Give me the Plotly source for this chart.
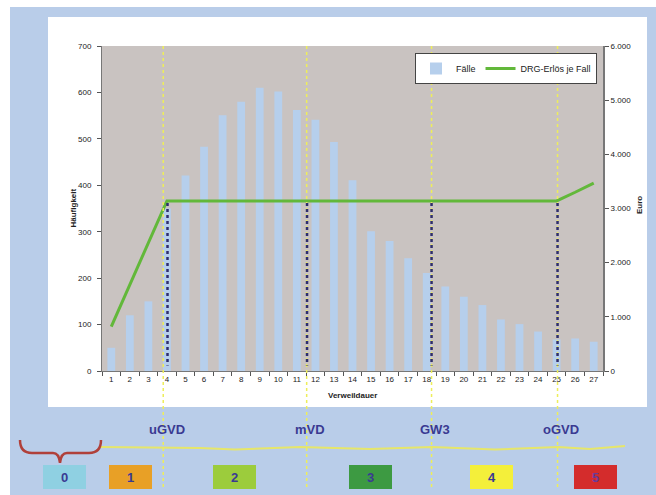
import plotly.graph_objects as go

# ---- data ----
days = [str(i) for i in range(1, 28)]
faelle = [50, 120, 150, 350, 421, 483, 551, 580, 610, 602, 562, 541, 493, 411, 301,
          280, 243, 211, 182, 160, 142, 111, 101, 85, 68, 70, 63]
erloes = [820, 1600, 2370, 3140, 3140, 3140, 3140, 3140, 3140, 3140, 3140, 3140, 3140,
          3140, 3140, 3140, 3140, 3140, 3140, 3140, 3140, 3140, 3140, 3140, 3140, 3300, 3470]
marker_names = ["uGVD", "mVD", "GW3", "oGVD"]
marker_pos = [3.8, 11.53, 18.26, 25.05]      # category positions (1-based)
dotted_pos = [4.03, 11.55, 18.26, 25.05]
box_labels = ["0", "1", "2", "3", "4", "5"]
box_colors = ["#8fd0e2", "#e8a026", "#9ccc3c", "#3d9a42", "#f4ef3a", "#d42c2c"]

W, H = 656, 495
L, R, T, B = 102, 603, 46, 371


def px(x):
    return (x - L) / (R - L)


def py(y):
    return (B - y) / (B - T)


BLUE = "#b9cde9"
NAVY = "#3a3a92"
FONT = "Arial, Liberation Sans, sans-serif"

fig = go.Figure()
fig.add_trace(go.Bar(x=days, y=faelle, name="Fälle", marker_color="#b6cfec",
                     marker_line_width=0, width=0.42))
fig.add_trace(go.Scatter(x=days, y=erloes, name="DRG-Erlös je Fall", yaxis="y2",
                         mode="lines", line=dict(color="#62b83a", width=3)))

shapes = []
# outer blue frame, white panel, grey plot area
shapes.append(dict(type="rect", xref="paper", yref="paper", x0=px(10), x1=px(660),
                   y0=py(7), y1=py(500), fillcolor=BLUE, line_width=0, layer="below"))
shapes.append(dict(type="rect", xref="paper", yref="paper", x0=px(48), x1=px(647),
                   y0=py(17), y1=py(407), fillcolor="white", line_width=0, layer="below"))
shapes.append(dict(type="rect", xref="paper", yref="paper", x0=0, x1=1,
                   y0=0, y1=1, fillcolor="#c9c3c1", line_width=0, layer="below"))

# yellow vertical lines
for p in marker_pos:
    shapes.append(dict(type="line", xref="x", yref="paper", x0=p - 1, x1=p - 1,
                       y0=1, y1=py(490), line=dict(color="#eeee5a", width=1.5, dash="dot")))
# dotted navy lines from revenue line down to axis
for p in dotted_pos:
    shapes.append(dict(type="line", xref="x", yref="y2", x0=p - 1, x1=p - 1,
                       y0=3100, y1=100, line=dict(color="#2e2e6e", width=2.5, dash="dot")))

# yellow horizontal timeline
wave = f"M {px(100)},{py(447)} L {px(200)},{py(448)} L {px(235)},{py(449.5)} L {px(300)},{py(447)} " \
       f"L {px(370)},{py(449)} L {px(432)},{py(447)} L {px(495)},{py(449.5)} L {px(558)},{py(447)} " \
       f"L {px(590)},{py(449)} L {px(625)},{py(446)}"
shapes.append(dict(type="path", xref="paper", yref="paper", path=wave,
                   line=dict(color="#e6e66a", width=2)))

# red curly brace
brace = f"M {px(20)},{py(440)} Q {px(20)},{py(453)} {px(32)},{py(453)} L {px(53)},{py(453)} " \
        f"Q {px(59)},{py(453)} {px(60)},{py(463)} Q {px(61)},{py(453)} {px(67)},{py(453)} " \
        f"L {px(89)},{py(453)} Q {px(101)},{py(453)} {px(101)},{py(440)}"
shapes.append(dict(type="path", xref="paper", yref="paper", path=brace,
                   line=dict(color="#b0403a", width=2.5)))

# numbered boxes
box_x = [43, 109, 213, 349, 470, 574]
annotations = []
for lab, col, bx in zip(box_labels, box_colors, box_x):
    shapes.append(dict(type="rect", xref="paper", yref="paper", x0=px(bx), x1=px(bx + 43),
                       y0=py(465), y1=py(489), fillcolor=col, line_width=0))
    annotations.append(dict(xref="paper", yref="paper", x=px(bx + 21.5), y=py(477),
                            xanchor="center", yanchor="middle",
                            text=f"<b>{lab}</b>", showarrow=False,
                            font=dict(family=FONT, size=13,
                                      color="#6a3a9a" if lab == "5" else NAVY)))

for name, p in zip(marker_names, marker_pos):
    annotations.append(dict(xref="x", yref="paper", x=p - 1 + 0.2, y=py(429),
                            xanchor="center", yanchor="middle",
                            text=f"<b>{name}</b>", showarrow=False,
                            font=dict(family=FONT, size=13, color=NAVY)))

# axis titles
annotations.append(dict(xref="paper", yref="paper", x=px(73), y=0.5, text="<b>Häufigkeit</b>",
                        xanchor="center", yanchor="middle",
                        textangle=-90, showarrow=False, font=dict(family=FONT, size=8, color="#222")))
annotations.append(dict(xref="paper", yref="paper", x=px(639), y=py(205), text="<b>Euro</b>",
                        xanchor="center", yanchor="middle",
                        textangle=-90, showarrow=False, font=dict(family=FONT, size=8, color="#222")))
annotations.append(dict(xref="paper", yref="paper", x=0.5, y=py(395), text="<b>Verweildauer</b>",
                        xanchor="center", yanchor="middle",
                        showarrow=False, font=dict(family=FONT, size=8, color="#222")))

fig.update_layout(
    width=W, height=H,
    margin=dict(l=L, r=W - R, t=T, b=H - B, pad=0),
    paper_bgcolor="white", plot_bgcolor="#c9c3c1",
    separators=",.",
    font=dict(family=FONT, size=8, color="#333"),
    bargap=0.5,
    showlegend=True,
    legend=dict(orientation="h", x=px(597), xanchor="right", y=py(53), yanchor="top",
                bgcolor="white", bordercolor="#444", borderwidth=1,
                font=dict(family=FONT, size=9, color="#222"), itemwidth=30,
                tracegroupgap=0),
    shapes=shapes, annotations=annotations,
    xaxis=dict(type="category", tickson="boundaries", ticks="outside", ticklen=4,
               tickcolor="#555", showline=True, linecolor="#777", linewidth=1,
               showgrid=False, range=[-0.5, 26.5], tickfont=dict(size=8, color="#222")),
    yaxis=dict(range=[0, 700], dtick=100, ticks="outside", ticklen=4, tickcolor="#555",
               showline=True, linecolor="#777", linewidth=1, showgrid=False,
               zeroline=False, tickfont=dict(size=8, color="#222"), ticklabelstandoff=4),
    yaxis2=dict(range=[0, 6000], dtick=1000, overlaying="y", side="right", tickformat=",.0f",
                ticks="outside", ticklen=4, tickcolor="#555", showline=True,
                linecolor="#777", linewidth=2, showgrid=False, zeroline=False,
                tickfont=dict(size=8, color="#222")),
)

fig.write_html("out.html", config={"displayModeBar": False},
               post_script="document.body.style.margin='0';document.body.style.overflow='hidden';")
